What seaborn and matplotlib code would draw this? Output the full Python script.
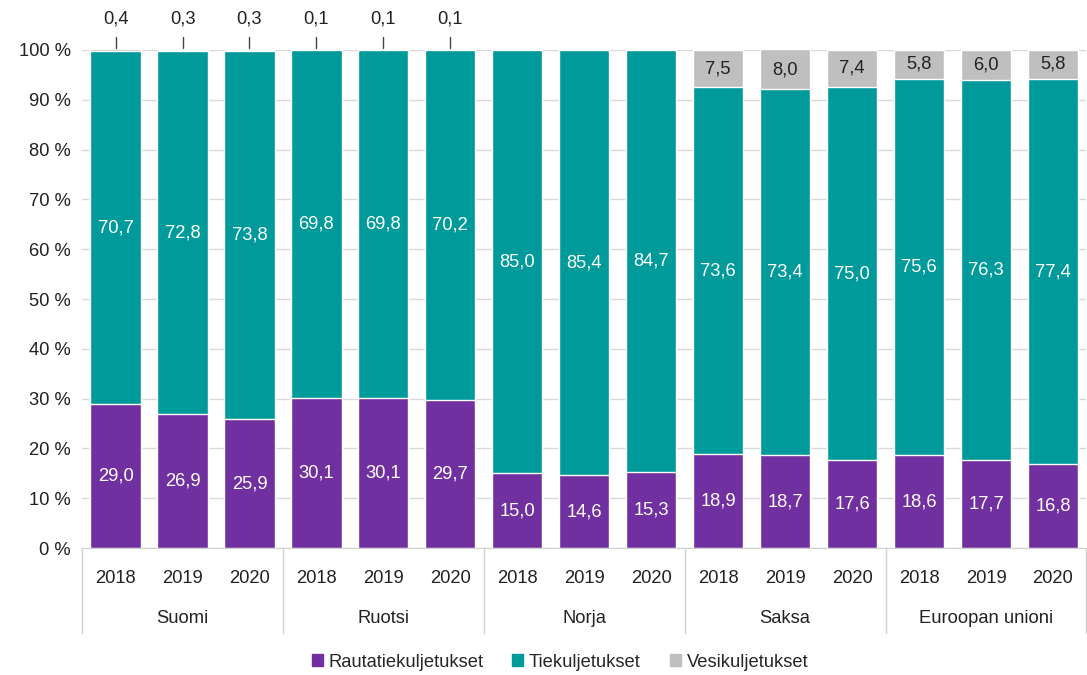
import numpy as np
import pandas as pd
import seaborn as sns
from matplotlib import pyplot as plt
from matplotlib.patches import Patch
import matplotlib.transforms as mtransforms

countries = ['Suomi', 'Ruotsi', 'Norja', 'Saksa', 'Euroopan unioni']
years = ['2018', '2019', '2020']
rail = [29.0, 26.9, 25.9, 30.1, 30.1, 29.7, 15.0, 14.6, 15.3, 18.9, 18.7, 17.6, 18.6, 17.7, 16.8]
road = [70.7, 72.8, 73.8, 69.8, 69.8, 70.2, 85.0, 85.4, 84.7, 73.6, 73.4, 75.0, 75.6, 76.3, 77.4]
water = [0.4, 0.3, 0.3, 0.1, 0.1, 0.1, 0.0, 0.0, 0.0, 7.5, 8.0, 7.4, 5.8, 6.0, 5.8]

purple = '#7030a0'
teal = '#009a9a'
grey = '#bfbfbf'
FS = 13.2

sns.set_style('white')
plt.rcParams['font.family'] = ['Liberation Sans', 'DejaVu Sans']

df = pd.DataFrame({
    'key': [f'{c} {y}' for c in countries for y in years],
    'rail': rail, 'road': road, 'water': water,
})
df['cum2'] = df['rail'] + df['road']
df['cum3'] = df['cum2'] + df['water']
order = list(df['key'])

fig = plt.figure(figsize=(10.87, 6.75), dpi=100)
ax = fig.add_axes([0.0755, 0.188, 0.924, 0.738])

# stacked look: draw cumulative totals from back to front
for col, colr in [('cum3', grey), ('cum2', teal), ('rail', purple)]:
    sns.barplot(data=df, x='key', y=col, order=order, color=colr, width=0.75,
                saturation=1, ax=ax, zorder=2)

ax.set_ylim(0, 100)
ax.set_xlim(-0.5, len(order) - 0.5)
ax.set_yticks(range(0, 101, 10))
ax.set_yticklabels([f'{v} %' for v in range(0, 101, 10)], fontsize=FS, color='#222222')
ax.set_xticks(range(len(order)))
ax.set_xticklabels(years * len(countries), fontsize=FS, color='#222222')
ax.tick_params(axis='x', length=0, pad=16)
ax.tick_params(axis='y', length=0, pad=8)
ax.set_xlabel('')
ax.set_ylabel('')
ax.yaxis.grid(True, color='#d9d9d9', linewidth=1, zorder=0)
ax.set_axisbelow(True)
for s in ['top', 'right', 'left']:
    ax.spines[s].set_visible(False)
ax.spines['bottom'].set_color('#d0d0d0')

# value labels
for i, r in df.iterrows():
    ax.text(i, r['rail'] / 2, f"{r['rail']:.1f}".replace('.', ','), ha='center', va='center',
            color='white', fontsize=FS, zorder=3)
    ax.text(i, r['rail'] + r['road'] / 2, f"{r['road']:.1f}".replace('.', ','), ha='center',
            va='center', color='white', fontsize=FS, zorder=3)
    w = r['water']
    if w >= 1:
        ax.text(i, 100 - w / 2, f"{w:.1f}".replace('.', ','), ha='center', va='center',
                color='#222222', fontsize=FS, zorder=3)
    elif w > 0:
        ax.plot([i, i], [100.4, 102.6], color='#444444', lw=1, clip_on=False)
        ax.text(i, 106.2, f"{w:.1f}".replace('.', ','), ha='center', va='center',
                color='#222222', fontsize=FS, clip_on=False)

# second level of x axis: country names and separators
trans = mtransforms.blended_transform_factory(ax.transData, ax.transAxes)
for k, c in enumerate(countries):
    ax.text(k * 3 + 1, -0.142, c, transform=trans, ha='center', va='center',
            fontsize=FS, color='#222222')
for k in range(len(countries) + 1):
    ax.plot([k * 3 - 0.5, k * 3 - 0.5], [0, -0.17], transform=trans, color='#d0d0d0',
            lw=1, clip_on=False)

handles = [Patch(color=purple, label='Rautatiekuljetukset'),
           Patch(color=teal, label='Tiekuljetukset'),
           Patch(color=grey, label='Vesikuljetukset')]
fig.legend(handles=handles, loc='center', bbox_to_anchor=(0.515, 0.019), ncol=3,
           frameon=False, fontsize=FS, handlelength=0.6, handleheight=0.6,
           handletextpad=0.3, columnspacing=1.6)

fig.savefig('out.png', dpi=100)
